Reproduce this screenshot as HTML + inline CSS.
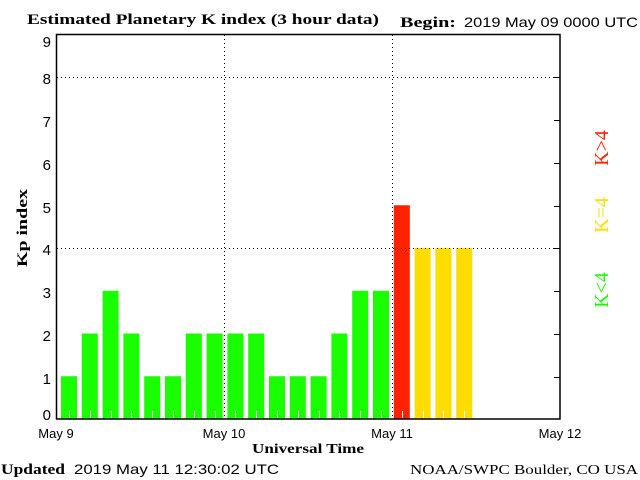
<!DOCTYPE html>
<html><head><meta charset="utf-8"><style>
body{margin:0;background:#fff;width:640px;height:480px;overflow:hidden}
svg{display:block}
text{font-family:"Liberation Sans",sans-serif;fill:#000}
.s{font-family:"Liberation Serif",serif;font-weight:bold}
</style></head><body>
<svg width="640" height="480" xmlns="http://www.w3.org/2000/svg">
<text x="27" y="24" class="s" font-size="15" textLength="352" lengthAdjust="spacingAndGlyphs">Estimated Planetary K index (3 hour data)</text>
<text x="400" y="27" class="s" font-size="15" textLength="56" lengthAdjust="spacingAndGlyphs">Begin:</text>
<text x="464" y="27" font-size="14" textLength="174" lengthAdjust="spacingAndGlyphs">2019 May 09 0000 UTC</text>
<g fill="#1aff00">
<rect x="61" y="376.25" width="16" height="42.75"/>
<rect x="81.8" y="333.5" width="16" height="85.5"/>
<rect x="102.6" y="290.75" width="16" height="128.25"/>
<rect x="123.4" y="333.5" width="16" height="85.5"/>
<rect x="144.2" y="376.25" width="16" height="42.75"/>
<rect x="165" y="376.25" width="16" height="42.75"/>
<rect x="185.8" y="333.5" width="16" height="85.5"/>
<rect x="206.6" y="333.5" width="16" height="85.5"/>
<rect x="227.4" y="333.5" width="16" height="85.5"/>
<rect x="248.2" y="333.5" width="16" height="85.5"/>
<rect x="269" y="376.25" width="16" height="42.75"/>
<rect x="289.8" y="376.25" width="16" height="42.75"/>
<rect x="310.6" y="376.25" width="16" height="42.75"/>
<rect x="331.4" y="333.5" width="16" height="85.5"/>
<rect x="352.2" y="290.75" width="16" height="128.25"/>
<rect x="373" y="290.75" width="16" height="128.25"/>
</g>
<rect x="393.8" y="205.25" width="16" height="213.75" fill="#ff2200"/>
<g fill="#ffdd00">
<rect x="414.6" y="248" width="16" height="171"/>
<rect x="435.4" y="248" width="16" height="171"/>
<rect x="456.2" y="248" width="16" height="171"/>
</g>
<g stroke="#fff" stroke-width="1">
<line x1="69.5" y1="411" x2="69.5" y2="418"/><line x1="90.5" y1="411" x2="90.5" y2="418"/>
<line x1="111.5" y1="411" x2="111.5" y2="418"/><line x1="131.5" y1="411" x2="131.5" y2="418"/>
<line x1="152.5" y1="411" x2="152.5" y2="418"/><line x1="173.5" y1="411" x2="173.5" y2="418"/>
<line x1="194.5" y1="411" x2="194.5" y2="418"/><line x1="215.5" y1="411" x2="215.5" y2="418"/>
<line x1="235.5" y1="411" x2="235.5" y2="418"/><line x1="256.5" y1="411" x2="256.5" y2="418"/>
<line x1="277.5" y1="411" x2="277.5" y2="418"/><line x1="298.5" y1="411" x2="298.5" y2="418"/>
<line x1="319.5" y1="411" x2="319.5" y2="418"/><line x1="339.5" y1="411" x2="339.5" y2="418"/>
<line x1="360.5" y1="411" x2="360.5" y2="418"/><line x1="381.5" y1="411" x2="381.5" y2="418"/>
<line x1="402.5" y1="411" x2="402.5" y2="418"/><line x1="423.5" y1="411" x2="423.5" y2="418"/>
<line x1="443.5" y1="411" x2="443.5" y2="418"/><line x1="464.5" y1="411" x2="464.5" y2="418"/>
</g>
<g stroke="#000" stroke-dasharray="1,3" stroke-width="1">
<line x1="57" y1="77.5" x2="560" y2="77.5"/>
<line x1="57" y1="248.5" x2="560" y2="248.5"/>
<line x1="224.5" y1="35" x2="224.5" y2="419"/>
<line x1="392.5" y1="35" x2="392.5" y2="419"/>
</g>
<rect x="56.5" y="34.5" width="503.5" height="384.5" fill="none" stroke="#000" stroke-width="1.5"/>
<g stroke="#000" stroke-width="1">
<line x1="554" y1="77.5" x2="560" y2="77.5"/><line x1="554" y1="120.5" x2="560" y2="120.5"/>
<line x1="554" y1="163.5" x2="560" y2="163.5"/><line x1="554" y1="206.5" x2="560" y2="206.5"/>
<line x1="554" y1="248.5" x2="560" y2="248.5"/><line x1="554" y1="291.5" x2="560" y2="291.5"/>
<line x1="554" y1="334.5" x2="560" y2="334.5"/><line x1="554" y1="377.5" x2="560" y2="377.5"/>
</g>
<g font-size="15" text-anchor="end">
<text x="51" y="47">9</text><text x="51" y="84">8</text><text x="51" y="127">7</text>
<text x="51" y="170">6</text><text x="51" y="213">5</text><text x="51" y="255">4</text>
<text x="51" y="298">3</text><text x="51" y="341">2</text><text x="51" y="384">1</text>
<text x="51" y="420">0</text>
</g>
<g font-size="13" text-anchor="middle">
<text x="56" y="438">May 9</text><text x="224" y="438">May 10</text>
<text x="392" y="438">May 11</text><text x="560" y="438">May 12</text>
</g>
<text x="308" y="453" class="s" font-size="14" text-anchor="middle" textLength="112" lengthAdjust="spacingAndGlyphs">Universal Time</text>
<text transform="translate(27,228) rotate(-90)" class="s" font-size="15" text-anchor="middle" textLength="78" lengthAdjust="spacingAndGlyphs">Kp index</text>
<g font-size="20" font-family="Liberation Serif">
<text transform="translate(608,290) rotate(-90)" text-anchor="middle" style="fill:#1aff00;font-family:'Liberation Serif',serif">K&lt;4</text>
<text transform="translate(608,215) rotate(-90)" text-anchor="middle" style="fill:#ffdd00;font-family:'Liberation Serif',serif">K=4</text>
<text transform="translate(608,148) rotate(-90)" text-anchor="middle" style="fill:#ff2200;font-family:'Liberation Serif',serif">K&gt;4</text>
</g>
<text x="1" y="474" class="s" font-size="15" textLength="64" lengthAdjust="spacingAndGlyphs">Updated</text>
<text x="74" y="474" font-size="14" textLength="205" lengthAdjust="spacingAndGlyphs">2019 May 11 12:30:02 UTC</text>
<text x="638" y="474" font-size="14" text-anchor="end" style="font-family:'Liberation Serif',serif" textLength="228" lengthAdjust="spacingAndGlyphs">NOAA/SWPC Boulder, CO USA</text>
</svg>
</body></html>
